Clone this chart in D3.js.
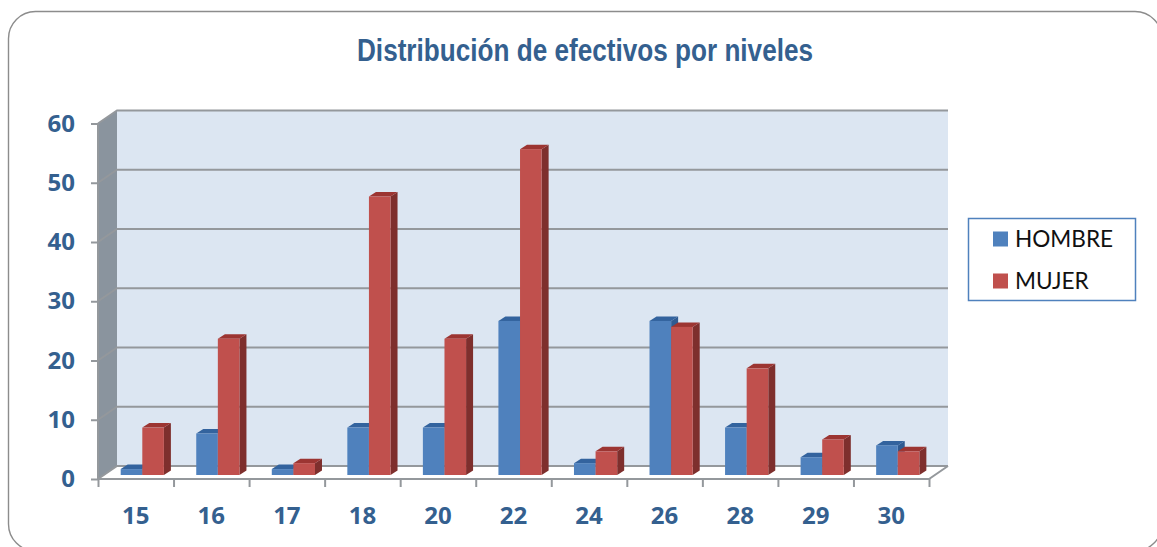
<!DOCTYPE html>
<html><head><meta charset="utf-8">
<script src="https://cdn.jsdelivr.net/npm/d3@7"></script>
<style>html,body{margin:0;padding:0;background:#fff}svg{display:block}</style>
</head><body><svg id="c" width="1157" height="547"></svg>
<script>
const categories=["15","16","17","18","20","22","24","26","28","29","30"];
const hombre=[1,7,1,8,8,26,2,26,8,3,5];
const mujer=[8,23,2,47,23,55,4,25,18,6,4];
const seriesNames=["HOMBRE","MUJER"];
const yTicks=[0,10,20,30,40,50,60];
const titleText="Distribución de efectivos por niveles";

const svg=d3.select("#c");
const L=98,R=929,B=479,T=123.5,dx=19,dy=-13;
const x=d3.scaleBand().domain(categories).range([L,R]);
const y=d3.scaleLinear().domain([0,60]).range([B,T]);
const barW=21.6,barOff=22.7,depthX=7,depthY=-4.5,barLift=-4;
const blue={f:"#4f81bd",s:"#2f5b92",t:"#33639e"},red={f:"#c0504d",s:"#7e2f2d",t:"#9c3532"};
const lineC="#94989c";
const textC="#34608f";

svg.append("rect").attr("x",8.5).attr("y",11.5).attr("width",1153.5).attr("height",539.5).attr("rx",27)
  .attr("fill","#fff").attr("stroke","#8c8c8c").attr("stroke-width",1.4);

svg.append("text").attr("x",357).attr("y",61)
  .attr("textLength",456).attr("lengthAdjust","spacingAndGlyphs")
  .attr("font-family","'Liberation Sans',sans-serif").attr("font-weight",700)
  .attr("font-size",32).attr("fill",textC).text(titleText);

// walls
svg.append("rect").attr("x",L+dx).attr("y",y(60)+dy).attr("width",R-L).attr("height",B-T).attr("fill","#dce6f2");
svg.append("polygon").attr("points",[[L,T],[L+dx,T+dy],[L+dx,B+dy],[L,B]].join(" ")).attr("fill","#8a949e");
svg.append("polygon").attr("points",[[L,B],[L+dx,B+dy],[R+dx,B+dy],[R,B]].join(" ")).attr("fill","#fff");

// gridlines with side-wall segment
yTicks.forEach(v=>{
  const yy=y(v);
  svg.append("path").attr("fill","none").attr("stroke",lineC).attr("stroke-width",2)
    .attr("d",`M${L},${yy}L${L+dx},${yy+dy}L${R+dx},${yy+dy}`);
});
svg.append("path").attr("fill","none").attr("stroke",lineC).attr("stroke-width",2)
  .attr("d",`M${L},${T}L${L},${B}L${R},${B}L${R+dx},${B+dy}`);

// axes
const yAxis=svg.append("g").attr("transform",`translate(${L},0)`)
  .call(d3.axisLeft(y).tickValues(yTicks).tickSize(7).tickPadding(16));
const xAxis=svg.append("g").attr("transform",`translate(0,${B})`)
  .call(d3.axisBottom(d3.scalePoint().domain(d3.range(categories.length+1)).range([L,R])).tickSize(8).tickFormat(""));
[yAxis,xAxis].forEach(g=>{g.select(".domain").remove();g.selectAll("line").attr("stroke",lineC).attr("stroke-width",2);});
yAxis.selectAll("text").attr("font-family","'Open Sans',sans-serif").attr("font-weight",700).attr("font-size",24).attr("fill",textC);

svg.append("g").selectAll("text").data(categories).join("text")
  .attr("x",d=>x(d)+x.bandwidth()/2).attr("y",524).attr("text-anchor","middle")
  .attr("font-family","'Open Sans',sans-serif").attr("font-weight",700).attr("font-size",24).attr("fill",textC).text(d=>d);

// 3D bars
function bar(g,x0,v,c){
  const y1=y(v)+barLift,y0=y(0)+barLift,x1=x0+barW;
  g.append("polygon").attr("points",[[x1,y1],[x1+depthX,y1+depthY],[x1+depthX,y0+depthY],[x1,y0]].join(" ")).attr("fill",c.s);
  g.append("polygon").attr("points",[[x0,y1],[x0+depthX,y1+depthY],[x1+depthX,y1+depthY],[x1,y1]].join(" ")).attr("fill",c.t);
  g.append("rect").attr("x",x0).attr("y",y1).attr("width",barW).attr("height",y0-y1).attr("fill",c.f);
}
const bars=svg.append("g");
categories.forEach((k,i)=>{
  bar(bars,x(k)+barOff,hombre[i],blue);
  bar(bars,x(k)+barOff+barW,mujer[i],red);
});

// legend
const lg=svg.append("g");
lg.append("rect").attr("x",968.5).attr("y",218.5).attr("width",167).attr("height",82).attr("fill","#fff").attr("stroke","#4f81bd").attr("stroke-width",1.5);
seriesNames.forEach((n,i)=>{
  const yy=[239,281][i];
  lg.append("rect").attr("x",993).attr("y",yy-7.5).attr("width",15).attr("height",15).attr("fill",[blue.f,red.f][i]);
  lg.append("text").attr("x",1015).attr("y",yy+8).attr("font-family","Lato,sans-serif").attr("font-size",22.6).attr("fill","#111").text(n);
});
</script></body></html>
